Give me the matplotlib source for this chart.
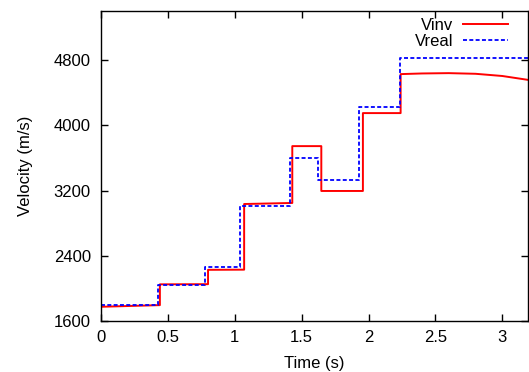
import numpy as np
import matplotlib
matplotlib.use('Agg')
import matplotlib.pyplot as plt

plt.rcParams['font.family'] = ['Liberation Sans', 'DejaVu Sans']

# inverted velocity (red), vertices of the stepped curve
t_inv = [0.0, 0.44, 0.44, 0.80, 0.80, 1.07, 1.07, 1.43, 1.43, 1.647, 1.647,
         1.958, 1.958, 2.24, 2.24, 2.4, 2.6, 2.8, 3.0, 3.19]
v_inv = [1775, 1795, 2050, 2052, 2228, 2230, 3035, 3048, 3745, 3745, 3195,
         3195, 4150, 4150, 4628, 4636, 4640, 4632, 4605, 4558]

# true velocity (blue), layer boundaries and values
t_real = [0.0, 0.428, 0.775, 1.039, 1.413, 1.62, 1.926, 2.235, 3.19]
v_real = [1800, 2040, 2262, 3010, 3600, 3330, 4222, 4820, 4820]

fig = plt.figure(figsize=(5.29, 3.72), dpi=100)
ax = fig.add_axes([0.191, 0.137, 0.8065, 0.833])

ax.plot(t_inv, v_inv, color='#ff0000', lw=1.4, label='Vinv')
ax.step(t_real, v_real, where='post', color='#0000ff', lw=1.3,
        ls=(0, (2.2, 1.3)), label='Vreal')

ax.set_xlim(0, 3.19)
ax.set_ylim(1600, 5400)
ax.set_xticks([0, 0.5, 1, 1.5, 2, 2.5, 3])
ax.set_xticklabels(['0', '0.5', '1', '1.5', '2', '2.5', '3'])
ax.set_yticks([1600, 2400, 3200, 4000, 4800])
ax.tick_params(direction='in', length=5, width=1, top=True, right=True,
               labelsize=12)
ax.tick_params(axis='x', pad=6.5)
ax.tick_params(axis='y', pad=7.3)
for s in ax.spines.values():
    s.set_linewidth(1.0)

ax.set_xlabel('Time (s)', fontsize=12, labelpad=8)
ax.set_ylabel('Velocity (m/s)', fontsize=12, labelpad=15)

ax.legend(loc='upper right', frameon=False, markerfirst=False,
          fontsize=12, handlelength=2.7, handletextpad=0.6,
          labelspacing=0.05, borderpad=0, borderaxespad=0,
          bbox_to_anchor=(0.954, 0.978))

fig.savefig('out.png', dpi=100)
